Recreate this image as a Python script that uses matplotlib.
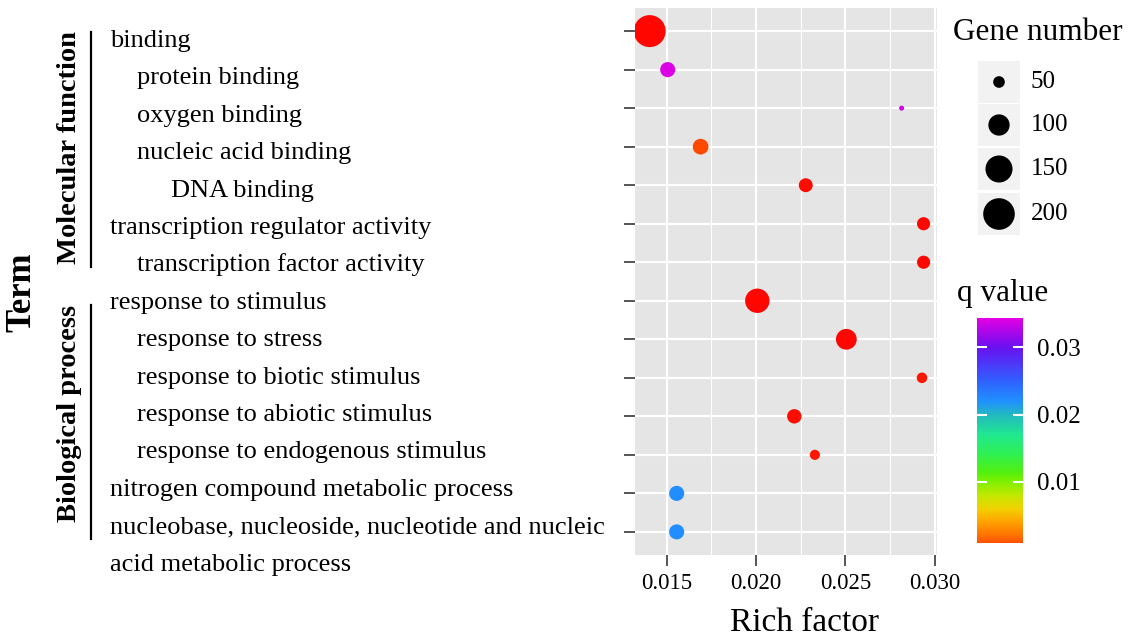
import numpy as np
import matplotlib
matplotlib.use("Agg")
import matplotlib.pyplot as plt
from matplotlib.colors import LinearSegmentedColormap, Normalize
from matplotlib.patches import Rectangle

# ---------------- data ----------------
terms = ["binding", "protein binding", "oxygen binding", "nucleic acid binding",
         "DNA binding", "transcription regulator activity",
         "transcription factor activity", "response to stimulus",
         "response to stress", "response to biotic stimulus",
         "response to abiotic stimulus", "response to endogenous stimulus",
         "nitrogen compound metabolic process",
         "nucleobase, nucleoside, nucleotide and nucleic\nacid metabolic process"]
indent = [0, 1, 1, 1, 2, 0, 1, 0, 1, 1, 1, 1, 0, 0]
rich_factor = [0.01405, 0.01506, 0.02814, 0.01690, 0.02278, 0.02937, 0.02937,
               0.02007, 0.02505, 0.02928, 0.02214, 0.02329, 0.01556, 0.01556]
gene_number = [205, 63, 40, 66, 58, 55, 55, 125, 96, 47, 60, 46, 63, 63]
q_value = [0.0001, 0.0340, 0.0336, 0.0009, 0.0002, 0.0001, 0.0001,
           0.0001, 0.0001, 0.0003, 0.0002, 0.0003, 0.0222, 0.0222]
categories = ["Molecular function", "Biological process"]
x_ticks = [0.015, 0.020, 0.025, 0.030]
size_breaks = [50, 100, 150, 200]
q_breaks = [0.01, 0.02, 0.03]

# colour gradient nodes (q value, colour)
q_nodes = [0.0, 0.001, 0.002, 0.004, 0.006, 0.008, 0.010, 0.0115, 0.014,
           0.017, 0.020, 0.022, 0.025, 0.030, 0.0343]
c_nodes = ["#FF0000", "#FF5200", "#FF7000", "#FFA000", "#F2D000", "#C2E800",
           "#80F000", "#50F010", "#30F050", "#20E890", "#22B8C0", "#2090FF",
           "#3060FF", "#6A10F0", "#E400E4"]

SERIF = "Liberation Serif"
plt.rcParams["font.family"] = SERIF

W, H = 1128, 638
fig = plt.figure(figsize=(W / 100, H / 100), dpi=100)


def fx(x):
    return x / W


def fy(y):
    return 1 - y / H


# size scale (ggplot-like area scale)
vmin_s, vmax_s = 40, 205


def diam_px(v):
    t = np.clip((np.asarray(v, float) - vmin_s) / (vmax_s - vmin_s), 0, 1)
    return 5 + 27 * np.sqrt(t)


def s_area(v):
    return (0.72 * diam_px(v)) ** 2


qmax = q_nodes[-1]
cmap = LinearSegmentedColormap.from_list(
    "qrainbow", [(q / qmax, c) for q, c in zip(q_nodes, c_nodes)], N=512)
norm = Normalize(0, qmax)

# ---------------- main panel ----------------
L, R, T, B = 635, 937, 8, 555
ax = fig.add_axes([fx(L), fy(B), fx(R - L), (B - T) / H])
ax.set_facecolor("#E5E5E5")
ypos = np.arange(len(terms))
ax.set_xlim(0.01323, 0.03012)
ax.set_ylim(len(terms) - 1 + 0.6, -0.6)
ax.set_xticks(x_ticks)
ax.set_xticklabels([f"{v:.3f}" for v in x_ticks])
ax.set_xticks([0.0175, 0.0225, 0.0275], minor=True)
ax.set_yticks(ypos)
ax.set_yticklabels([])
ax.grid(True, which="major", color="white", lw=1.6)
ax.grid(True, which="minor", axis="x", color="white", lw=0.8)
ax.set_axisbelow(True)
for sp in ax.spines.values():
    sp.set_visible(False)
ax.tick_params(axis="both", which="major", length=8, width=1.4, color="#555555",
               labelsize=16.5, pad=5)
ax.tick_params(axis="both", which="minor", length=0)

ax.scatter(rich_factor, ypos, s=s_area(gene_number), c=q_value, cmap=cmap,
           norm=norm, linewidths=0, zorder=3)

fig.text(fx(804), fy(623), "Rich factor", fontsize=24, ha="center", va="center")

# ---------------- y labels ----------------
x_indent = {0: 110, 1: 137, 2: 171}
for i, (lab, ind) in enumerate(zip(terms, indent)):
    for k, line in enumerate(lab.split("\n")):
        base = 47 + 37.4 * (i + k)
        fig.text(fx(x_indent[ind] if k == 0 else 110), fy(base), line,
                 fontsize=19, ha="left", va="baseline")

fig.text(fx(22), fy(292), "Term", fontsize=25, fontweight="bold",
         rotation=90, ha="center", va="center")
fig.text(fx(70), fy(148), categories[0], fontsize=20.5, fontweight="bold",
         rotation=90, ha="center", va="center")
fig.text(fx(70), fy(413), categories[1], fontsize=20.5, fontweight="bold",
         rotation=90, ha="center", va="center")
fig.add_artist(plt.Line2D([fx(91), fx(91)], [fy(32), fy(267)], color="black", lw=1.6))
fig.add_artist(plt.Line2D([fx(91), fx(91)], [fy(305), fy(539)], color="black", lw=1.6))

# ---------------- size legend ----------------
fig.text(fx(953), fy(33), "Gene number", fontsize=22.5, ha="left", va="center")
lax = fig.add_axes([fx(978), fy(237), fx(42), 176 / H])
lax.set_xlim(0, 42)
lax.set_ylim(237, 61)
lax.axis("off")
key_tops = [61, 104, 148, 193]
key_h = 42
for top in key_tops:
    lax.add_patch(Rectangle((0, top), 42, key_h, facecolor="#F2F2F2",
                            edgecolor="none"))
centers = [t + key_h / 2 for t in key_tops]
lax.scatter([21] * len(size_breaks), centers, s=s_area(size_breaks),
            color="black", linewidths=0, zorder=3)
for c, b in zip(centers, size_breaks):
    fig.text(fx(1031), fy(c), str(b), fontsize=18, ha="left", va="center")

# ---------------- colour bar ----------------
fig.text(fx(957), fy(293), "q value", fontsize=22.5, ha="left", va="center")
cax = fig.add_axes([fx(977), fy(543), fx(46), (543 - 318) / H])
sm = plt.cm.ScalarMappable(norm=norm, cmap=cmap)
cb = fig.colorbar(sm, cax=cax, boundaries=np.linspace(0.00096, qmax, 300))
cb.outline.set_visible(False)
cb.set_ticks(q_breaks)
cb.set_ticklabels([f"{v:.2f}" for v in q_breaks])
cax.tick_params(direction="in", color="white", length=7, width=1.5,
                left=True, right=True, labelleft=False, labelright=True,
                labelcolor="black", labelsize=18, pad=10)

fig.savefig("out.png", dpi=100)
